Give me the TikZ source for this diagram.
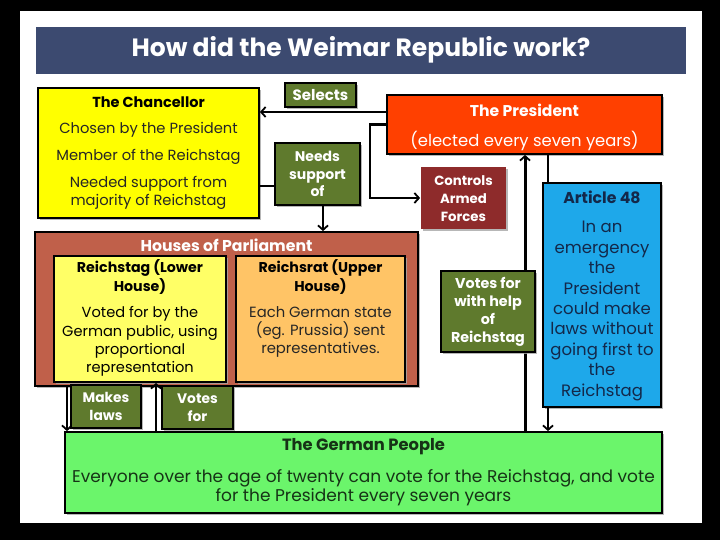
\documentclass[tikz,border=0pt]{standalone}
\usepackage{fontspec}
\setmainfont{Poppins}
\usetikzlibrary{arrows.meta,shadows,calc}
\definecolor{titlebar}{HTML}{3C4A70}
\definecolor{olive}{HTML}{5F7A2D}
\definecolor{chanY}{HTML}{FFFF00}
\definecolor{presR}{HTML}{FF4000}
\definecolor{ctrlR}{HTML}{8E2B2B}
\definecolor{artB}{HTML}{1EA8EA}
\definecolor{houseR}{HTML}{C0604A}
\definecolor{rtagY}{HTML}{FFFF66}
\definecolor{rratO}{HTML}{FFC466}
\definecolor{gerG}{HTML}{6BF56B}
\definecolor{artT}{HTML}{13284A}
\definecolor{gerT}{HTML}{163316}
\tikzset{
  box/.style={draw=black, line width=1.8pt, inner sep=0pt,
    drop shadow={shadow xshift=1.6pt, shadow yshift=-1.6pt, fill=black!35, opacity=0.8}},
  lbl/.style={box, fill=olive, text=white, align=center, font=\fontsize{14}{17.5}\selectfont\bfseries},
  txt/.style={inner sep=0pt, align=center},
  conn/.style={line width=2.2pt, draw=black},
  arr/.style={conn, -{Straight Barb[length=4.5pt,width=10pt,line width=1.8pt]}},
}
\begin{document}
\begin{tikzpicture}[x=1pt,y=-1pt]
\useasboundingbox (0,0) rectangle (720,540);
\fill[black] (0,0) rectangle (720,540);
\fill[white] (20,11) rectangle (702,523);

% title
\node[fill=titlebar, minimum width=650, minimum height=47, inner sep=0pt] (title) at (361,50.5) {};
\node[txt, text=white, font=\fontsize{25}{28}\selectfont\bfseries] (titleT) at (361,50) {How did the Weimar Republic work?};

% boxes
\node[box, fill=chanY, minimum width=221, minimum height=130] (chan) at (148.5,153) {};
\node[box, fill=presR, minimum width=275, minimum height=59] (pres) at (524.5,124.5) {};
\node[box, fill=ctrlR, draw=none, minimum width=85, minimum height=62] (ctrl) at (463.5,198) {};
\node[box, fill=artB, minimum width=118, minimum height=224] (art) at (602,295) {};
\node[box, fill=houseR, minimum width=383, minimum height=154] (houses) at (226.5,309) {};
\node[box, fill=rtagY, minimum width=172, minimum height=126] (rtag) at (140,319) {};
\node[box, fill=rratO, minimum width=169, minimum height=126] (rrat) at (320.5,319) {};
\node[box, fill=gerG, minimum width=597, minimum height=81] (ger) at (363.5,472.5) {};

% connectors
\coordinate (selY) at (0,112);
\draw[arr] (pres.west |- selY) -- (chan.east |- selY);
\draw[arr] (pres.west) -- ++(-16,0) |- (ctrl.west);
\coordinate (needY) at (0,186);
\coordinate (needX) at (323,0);
\coordinate (art48X) at (548,0);
\coordinate (votX) at (525,0);
\coordinate (mkX) at (67,0);
\coordinate (vfX) at (156,0);
\draw[conn] (pres.south -| art48X) -- (art.north -| art48X);
\draw[arr] (art.south -| art48X) -- (ger.north -| art48X);
\draw[arr, line width=3pt] (ger.north -| votX) -- (pres.south -| votX);
\draw[arr] (houses.south -| mkX) -- (ger.north -| mkX);
\draw[arr] (ger.north -| vfX) -- (rtag.south -| vfX);

\node[lbl, minimum width=71, minimum height=24, font=\fontsize{15}{17}\selectfont\bfseries] (sel) at (320.5,95) {Selects};
\node[lbl, minimum width=85, minimum height=62] (needs) at (317.5,174) {Needs\\support\\of};
\draw[conn] (chan.east |- needY) -- (needs.west |- needY);
\draw[arr] (needs.south -| needX) -- (houses.north -| needX);
\node[lbl, minimum width=94, minimum height=81, font=\fontsize{14.3}{18}\selectfont\bfseries] (votes) at (488,311.5) {Votes for\\with help\\of\\Reichstag};
\node[lbl, minimum width=70, minimum height=43, font=\fontsize{13.8}{17.5}\selectfont\bfseries] (makes) at (106,406.5) {Makes\\laws};
\node[lbl, minimum width=71, minimum height=43, font=\fontsize{13.8}{17.5}\selectfont\bfseries] (votesfor) at (197.5,407.5) {Votes\\for};

% texts
\node[txt, font=\fontsize{14.5}{16}\selectfont\bfseries] (chT) at (148.5,102) {The Chancellor};
\node[txt, text=black!85, font=\fontsize{14.7}{17}\selectfont] (chA) at (148.5,130) {Chosen by the President};
\node[txt, text=black!85, font=\fontsize{14.7}{17}\selectfont] (chB) at (148.5,157) {Member of the Reichstag};
\node[txt, text=black!85, font=\fontsize{14.7}{18}\selectfont] (chC) at (148.5,193) {Needed support from\\majority of Reichstag};

\node[txt, text=white, font=\fontsize{15.6}{17}\selectfont\bfseries] (prT) at (524.5,110) {The President};
\node[txt, text=white, font=\fontsize{16.4}{18}\selectfont] (prA) at (524.5,141) {(elected every seven years)};

\node[txt, text=white, font=\fontsize{13.3}{18}\selectfont\bfseries] (ctT) at (463.5,199) {Controls\\Armed\\Forces};

\node[txt, text=artT, font=\fontsize{15.7}{17}\selectfont\bfseries] (arT) at (602,197) {Article 48};
\node[txt, text=artT, font=\fontsize{16.5}{20.4}\selectfont] (arA) at (602,311) {In an\\emergency\\the\\President\\could make\\laws without\\going first to\\the\\Reichstag};

\node[txt, text=white, font=\fontsize{15.7}{17}\selectfont\bfseries] (hoT) at (226.5,245) {Houses of Parliament};
\node[txt, font=\fontsize{14.2}{19}\selectfont\bfseries] (rtT) at (140,277.5) {Reichstag (Lower\\House)};
\node[txt, font=\fontsize{14.6}{18.3}\selectfont] (rtA) at (140,341.5) {Voted for by the\\German public, using\\proportional\\representation};
\node[txt, font=\fontsize{14.2}{19}\selectfont\bfseries] (rrT) at (320.5,277.5) {Reichsrat (Upper\\House)};
\node[txt, text=black!85, font=\fontsize{14.8}{18}\selectfont] (rrA) at (320.5,332) {Each German state\\(eg. Prussia) sent\\representatives.};

\node[txt, text=gerT, font=\fontsize{16.3}{18}\selectfont\bfseries] (geT) at (363.5,447) {The German People};
\node[txt, text=gerT, font=\fontsize{17}{19.5}\selectfont] (geA) at (363.5,487.5) {Everyone over the age of twenty can vote for the Reichstag, and vote\\for the President every seven years};
\end{tikzpicture}
\end{document}
